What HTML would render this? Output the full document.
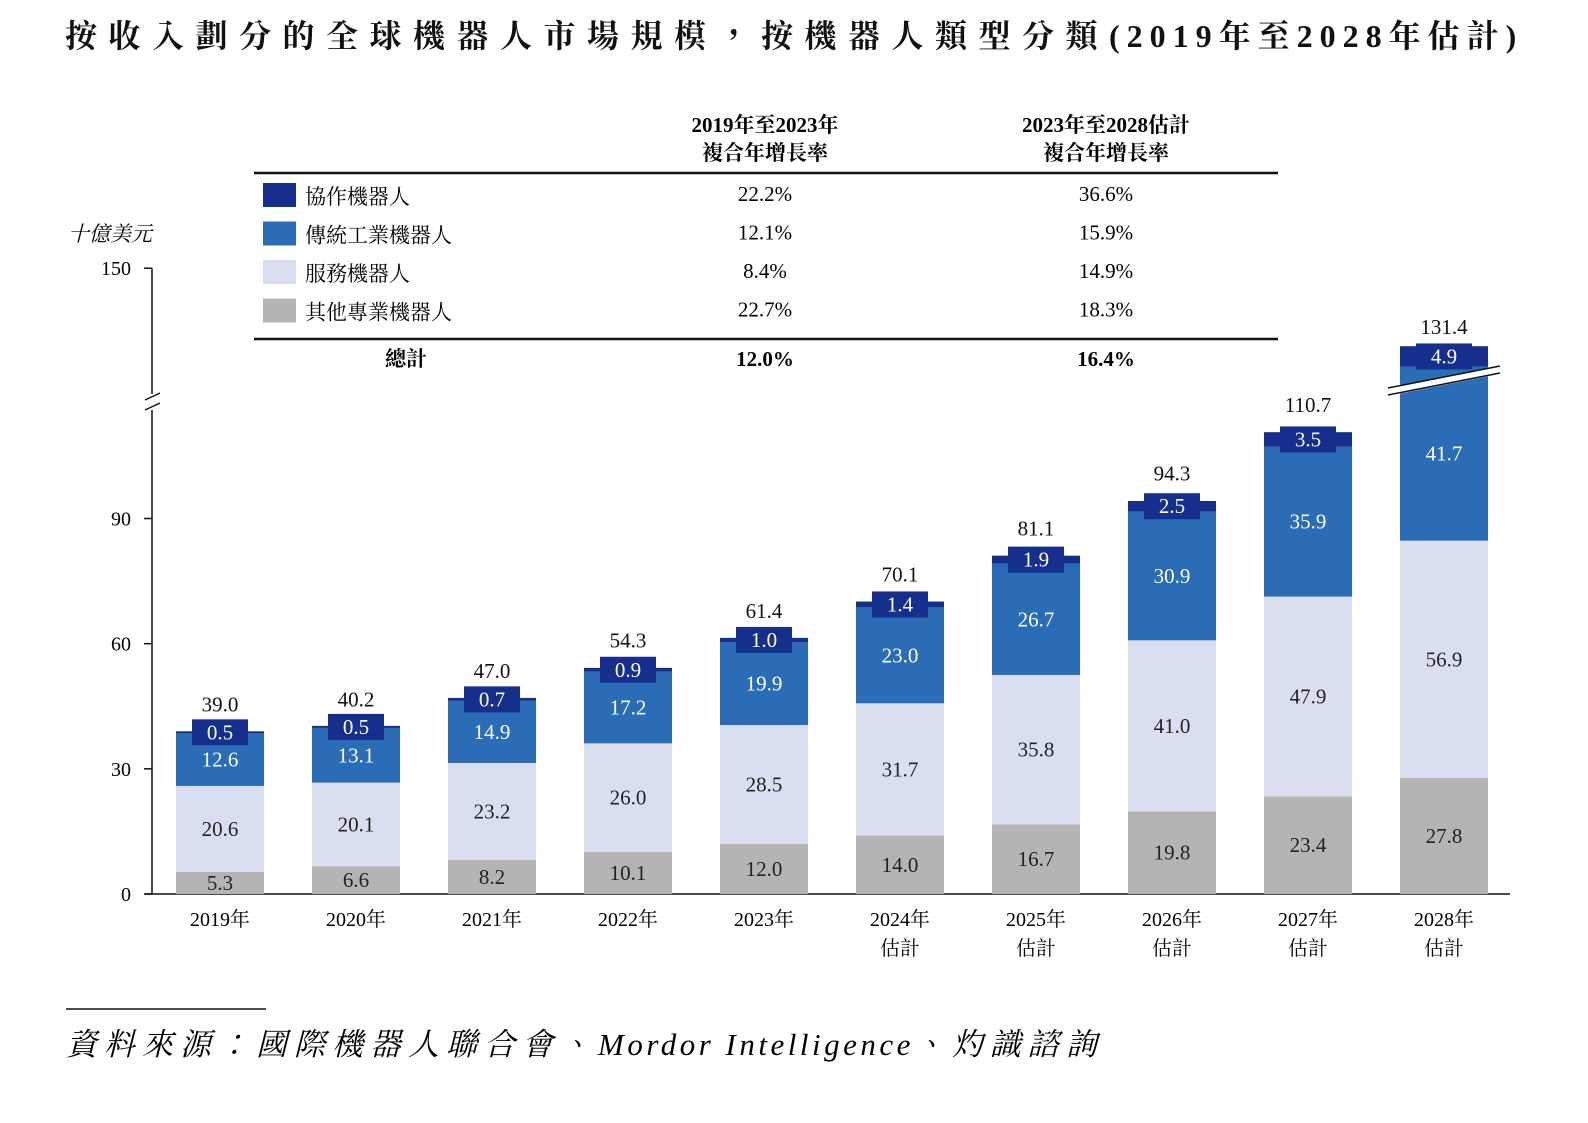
<!DOCTYPE html>
<html><head><meta charset="utf-8">
<style>
body{margin:0;background:#fff;}
svg text{font-family:"Liberation Serif","Noto Serif CJK TC","Noto Serif CJK SC",serif;}
</style></head>
<body>
<svg id="chart" width="1588" height="1118" viewBox="0 0 1588 1118" xmlns="http://www.w3.org/2000/svg">
<text x="65" y="47" font-size="32" font-weight="bold" fill="#111"><tspan letter-spacing="11.5">按收入劃分的全球機器人市場規模，按機器人類型分類</tspan><tspan letter-spacing="7">(2019年至2028年估計)</tspan></text>

<g>
<text x="765" y="132" text-anchor="middle" font-size="21" font-weight="bold">2019年至2023年</text>
<text x="765" y="160" text-anchor="middle" font-size="21" font-weight="bold">複合年增長率</text>
<text x="1106" y="132" text-anchor="middle" font-size="21" font-weight="bold">2023年至2028估計</text>
<text x="1106" y="160" text-anchor="middle" font-size="21" font-weight="bold">複合年增長率</text>
<line x1="254" y1="173" x2="1278" y2="173" stroke="#111" stroke-width="2.5"/>
<line x1="254" y1="339" x2="1278" y2="339" stroke="#111" stroke-width="2.5"/>
<g id="legend"></g>
<text x="406" y="366" text-anchor="middle" font-size="21" font-weight="bold">總計</text>
<text x="765" y="366" text-anchor="middle" font-size="21" font-weight="bold">12.0%</text>
<text x="1106" y="366" text-anchor="middle" font-size="21" font-weight="bold">16.4%</text>
</g>

<text x="110" y="241" text-anchor="middle" font-size="21" font-style="italic">十億美元</text>
<g id="axes"></g>
<g id="bars"></g>

<line x1="66" y1="1009" x2="266" y2="1009" stroke="#111" stroke-width="1.5"/>
<text x="66" y="1055" font-size="31" font-style="italic"><tspan letter-spacing="7">資料來源：國際機器人聯合會、</tspan><tspan letter-spacing="3.5">Mordor Intelligence</tspan><tspan letter-spacing="7">、灼識諮詢</tspan></text>
</svg>
<script>
const categories=["2019年","2020年","2021年","2022年","2023年","2024年","2025年","2026年","2027年","2028年"];
const estimated=[false,false,false,false,false,true,true,true,true,true];
const otherVals=[5.3,6.6,8.2,10.1,12.0,14.0,16.7,19.8,23.4,27.8];
const serviceVals=[20.6,20.1,23.2,26.0,28.5,31.7,35.8,41.0,47.9,56.9];
const tradVals=[12.6,13.1,14.9,17.2,19.9,23.0,26.7,30.9,35.9,41.7];
const collabVals=[0.5,0.5,0.7,0.9,1.0,1.4,1.9,2.5,3.5,4.9];
const totals=[39.0,40.2,47.0,54.3,61.4,70.1,81.1,94.3,110.7,131.4];
const yTicks=[0,30,60,90,150];
const legendNames=["協作機器人","傳統工業機器人","服務機器人","其他專業機器人"];
const cagr1=["22.2%","12.1%","8.4%","22.7%"];
const cagr2=["36.6%","15.9%","14.9%","18.3%"];

const NS="http://www.w3.org/2000/svg";
const colors=["#172f8c","#2a6db6","#d9dff0","#b4b4b4"];
const segColors=["#b4b4b4","#d9dff0","#2a6db6","#172f8c"];
const y0=894, pxPer=4.172;
const y=v=>y0-v*pxPer;
const x=i=>220+i*136;
const bw=88;
function mk(tag,attrs,parent,txt){const e=document.createElementNS(NS,tag);for(const k in attrs)e.setAttribute(k,attrs[k]);if(txt!==undefined)e.textContent=txt;parent.appendChild(e);return e;}

const lg=document.getElementById('legend');
legendNames.forEach((n,i)=>{
  const yy=196+i*38.5;
  const r=mk('rect',{x:263,y:yy-13,width:33,height:24,fill:colors[i]},lg);
  
  
  const t=mk('text',{x:305,y:yy+8,'font-size':21},lg,n);
  
  
  const a=mk('text',{x:765,y:yy+5,'font-size':21,'text-anchor':'middle'},lg,cagr1[i]);
  
  
  const b=mk('text',{x:1106,y:yy+5,'font-size':21,'text-anchor':'middle'},lg,cagr2[i]);
  
  
});

const ax=document.getElementById('axes');
const yl=mk('line',{x1:152,y1:y(150),x2:152,y2:y0,stroke:'#111','stroke-width':1.5},ax);


const xl=mk('line',{x1:145,y1:y0,x2:1510,y2:y0,stroke:'#111','stroke-width':1.5},ax);


yTicks.forEach(v=>{
  mk('line',{x1:144,y1:y(v),x2:152,y2:y(v),stroke:'#111','stroke-width':1.5},ax);
  const t=mk('text',{x:131,y:y(v)+7,'font-size':20,'text-anchor':'end'},ax,String(v));
  
  
});
mk('rect',{x:146,y:394,width:12,height:16,fill:'#fff'},ax);
mk('line',{x1:145,y1:400,x2:160,y2:393,stroke:'#111','stroke-width':1.5},ax);
mk('line',{x1:145,y1:410,x2:160,y2:403,stroke:'#111','stroke-width':1.5},ax);

const bars=document.getElementById('bars');
categories.forEach((c,i)=>{
  const g=mk('g',{},bars);
  
  
  const segs=[otherVals[i],serviceVals[i],tradVals[i],collabVals[i]];
  const txtCol=['#222','#222','#fff','#fff'];
  let base=0;
  const L=x(i)-bw/2;
  segs.forEach((v,k)=>{
    const r=mk('rect',{x:L,y:y(base+v),width:bw,height:v*pxPer,fill:segColors[k]},g);
    
    
    const mid=y(base+v/2);
    if(k===3){
      mk('rect',{x:x(i)-28,y:mid-13,width:56,height:26,fill:segColors[3]},g);
    }
    const t=mk('text',{x:x(i),y:mid+7,'font-size':21,'text-anchor':'middle',fill:txtCol[k]},g,v.toFixed(1));
    
    
    base+=v;
  });
  const tt=mk('text',{x:x(i),y:y(totals[i])-(i===9?12:20),'font-size':21,'text-anchor':'middle',fill:'#111'},g,totals[i].toFixed(1));
  
  
  const xt=mk('text',{x:x(i),y:926,'font-size':20,'text-anchor':'middle'},g,c);
  
  
  if(estimated[i]){
    const e=mk('text',{x:x(i),y:955,'font-size':20,'text-anchor':'middle'},g,'估計');
    
    
  }
  if(i===9){
    mk('polygon',{points:`${L-12},388 ${L+bw+12},366 ${L+bw+12},374 ${L-12},396`,fill:'#fff'},g);
    mk('line',{x1:L-12,y1:388,x2:L+bw+12,y2:366,stroke:'#111','stroke-width':1.5},g);
    mk('line',{x1:L-12,y1:395,x2:L+bw+12,y2:373,stroke:'#111','stroke-width':1.5},g);
  }
});
</script>
</body></html>
